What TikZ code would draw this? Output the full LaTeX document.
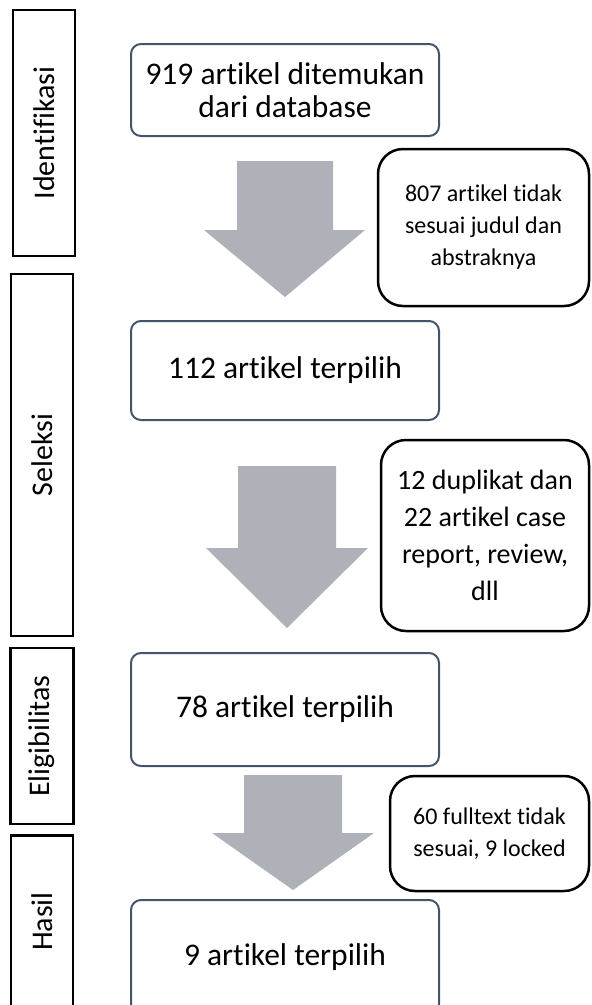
\documentclass[tikz,border=0pt]{standalone}
\usepackage{fontspec}
\setmainfont{Carlito}[Ligatures=NoCommon]
\usetikzlibrary{backgrounds}

\definecolor{boxline}{RGB}{68,84,106}
\definecolor{arrowgray}{RGB}{174,177,184}

\begin{document}
\begin{tikzpicture}[x=1pt, y=-1pt,
    stage/.style={draw=black, line width=2.5pt, rotate=90, inner sep=0pt, font=\fontsize{30}{32}\selectfont},
    result/.style={draw=boxline, line width=2pt, rounded corners=10pt, minimum width=308pt, align=center, inner sep=0pt, font=\fontsize{31.5}{33}\selectfont},
    excluded/.style={draw=black, line width=2.5pt, rounded corners=25pt, align=center, inner sep=0pt, font=\fontsize{24}{32}\selectfont},
    blockarrow/.style={fill=arrowgray}]

      \useasboundingbox (0,0) rectangle (592,1005);

      % stages on the left
      \node [stage, minimum width=246pt, minimum height=62pt] at (44,133) (idf) {Identifikasi};
      \node [stage, minimum width=362pt, minimum height=62pt] at (42,455) (sel) {Seleksi};
      \node [stage, minimum width=176pt, minimum height=63pt] at (42,736) (elg) {Eligibilitas};
      \node [stage, minimum width=172pt, minimum height=62pt] at (42,921.5) (has) {Hasil};

      % main flow
      \node [result, minimum height=92pt] at (285,90) (found) {919 artikel ditemukan\\dari database};
      \node [result, minimum height=99pt] at (285,370.5) (pick1) {112 artikel terpilih};
      \node [result, minimum height=113pt] at (285,709.5) (pick2) {78 artikel terpilih};
      \node [result, minimum height=114pt] at (285,957) (final) {9 artikel terpilih};

      % excluded articles
      \node [excluded, minimum width=211pt, minimum height=157pt] at (483.5,227.5) (excl1) {807 artikel tidak\\sesuai judul dan\\abstraknya};
      \node [excluded, minimum width=208pt, minimum height=191pt, font=\fontsize{28}{37}\selectfont] at (485,535.5) (excl2) {12 duplikat dan\\22 artikel case\\report, review,\\dll};
      \node [excluded, minimum width=199pt, minimum height=115pt] at (489.5,833.5) (excl3) {60 fulltext tidak\\sesuai, 9 locked};

    %
    % Arrows
      \fill [blockarrow] (237,161) -- (333,161) -- (333,230) -- (365,230) -- (285,297) -- (204,230) -- (237,230) -- cycle;
      \fill [blockarrow] (238,466) -- (336,466) -- (336,548) -- (368,548) -- (287,628) -- (206,548) -- (238,548) -- cycle;
      \fill [blockarrow] (244,775) -- (342,775) -- (342,833) -- (374,833) -- (293,890) -- (212,833) -- (244,833) -- cycle;
\end{tikzpicture}
\end{document}
